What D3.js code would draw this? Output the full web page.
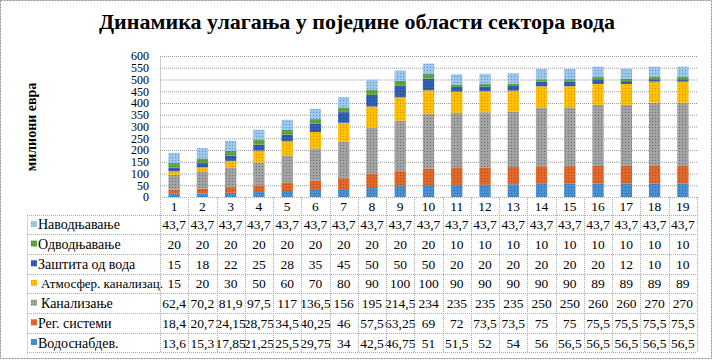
<!DOCTYPE html>
<html>
<head>
<meta charset="utf-8">
<script src="https://d3js.org/d3.v7.min.js"></script>
<style>
body { margin: 0; background: #fff; }
</style>
</head>
<body>
<svg width="714" height="360"></svg>
<script>
const categories = ['1','2','3','4','5','6','7','8','9','10','11','12','13','14','15','16','17','18','19'];

// series, bottom to top of the stack
const seriesNames = ['Водоснабдев.', 'Рег. системи', 'Канализање', 'Атмосфер. канализац.', 'Заштита од вода', 'Одводњавање', 'Наводњавање'];
const vodosnabdev = [13.6,15.3,17.85,21.25,25.5,29.75,34,42.5,46.75,51,51.5,52,54,56,56.5,56.5,56.5,56.5,56.5];
const regSistemi = [18.4,20.7,24.15,28.75,34.5,40.25,46,57.5,63.25,69,72,73.5,73.5,75,75,75.5,75.5,75.5,75.5];
const kanalisanje = [62.4,70.2,81.9,97.5,117,136.5,156,195,214.5,234,235,235,235,250,250,260,260,270,270];
const atmosfer = [15,20,30,50,60,70,80,90,100,100,90,90,90,90,90,89,89,89,89];
const zastita = [15,18,22,25,28,35,45,50,50,50,20,20,20,20,20,20,12,10,10];
const odvodnjavanje = [20,20,20,20,20,20,20,20,20,20,10,10,10,10,10,10,10,10,10];
const navodnjavanje = [43.7,43.7,43.7,43.7,43.7,43.7,43.7,43.7,43.7,43.7,43.7,43.7,43.7,43.7,43.7,43.7,43.7,43.7,43.7];
const yTicks = [0,50,100,150,200,250,300,350,400,450,500,550,600];

const seriesValues = [vodosnabdev, regSistemi, kanalisanje, atmosfer, zastita, odvodnjavanje, navodnjavanje];
const fills = ['#4a8fd0', '#e0682a', '#a3a3a3', '#ffc000', '#3260b4', '#62a544', '#9cc6ec'];
const dots  = ['#2f6aa6', '#b04a14', '#6e6e6e', '#e08c00', '#1c3f86', '#3f7a2a', '#5f95cf'];
const serif = "'Liberation Serif'";

const svg = d3.select('svg');

// outer border
svg.append('rect')
  .attr('x', 0.5).attr('y', 0.5).attr('width', 711).attr('height', 358)
  .attr('fill', 'none').attr('stroke', '#8c8c8c').attr('stroke-dasharray', '2,1');

// patterns
const defs = svg.append('defs');
fills.forEach((c, i) => {
  const p = defs.append('pattern')
    .attr('id', 'pat' + i)
    .attr('width', 3).attr('height', 3)
    .attr('patternUnits', 'userSpaceOnUse');
  p.append('rect').attr('width', 3).attr('height', 3).attr('fill', c);
  p.append('rect').attr('x', 1).attr('y', 1).attr('width', 1).attr('height', 1).attr('fill', dots[i]);
});

svg.append('text')
  .attr('x', 357).attr('y', 29)
  .attr('text-anchor', 'middle')
  .style('font-family', serif)
  .style('font-size', '22px').style('font-weight', 'bold')
  .text('Динамика улагања  у поједине области  сектора вода');

const plotLeft = 160, plotRight = 697, plotTop = 56, plotBottom = 197;

const x = d3.scaleBand().domain(categories).range([plotLeft, plotRight]).paddingInner(0.6).paddingOuter(0.3);
const xCol = d3.scaleBand().domain(categories).range([plotLeft, plotRight]);
const y = d3.scaleLinear().domain([0, 600]).range([plotBottom, plotTop]);

// gridlines
svg.append('g')
  .selectAll('line')
  .data(yTicks.slice(1))
  .join('line')
    .attr('x1', plotLeft).attr('x2', plotRight)
    .attr('y1', d => y(d) + 0.5).attr('y2', d => y(d) + 0.5)
    .attr('stroke', '#9a9a9a').attr('stroke-dasharray', '1,1');

// y axis
const yAxis = svg.append('g')
  .attr('transform', `translate(${plotLeft},0)`)
  .call(d3.axisLeft(y).tickValues(yTicks).tickSize(0).tickPadding(11));
yAxis.select('.domain').attr('stroke', '#9a9a9a').attr('stroke-dasharray', '1,1');
yAxis.selectAll('text')
  .attr('fill', '#000')
  .style('font-family', serif).style('font-size', '12px');

svg.append('text')
  .attr('transform', 'translate(36,127) rotate(-90)')
  .attr('text-anchor', 'middle')
  .style('font-family', serif)
  .style('font-size', '14px').style('font-weight', 'bold')
  .text('милиони евра');

// stacked bars
const rows = categories.map((c, j) => {
  const r = { cat: c };
  seriesNames.forEach((s, i) => { r[s] = seriesValues[i][j]; });
  return r;
});
const stacked = d3.stack().keys(seriesNames)(rows);

svg.append('g')
  .selectAll('g')
  .data(stacked)
  .join('g')
    .attr('fill', (d, i) => `url(#pat${i})`)
  .selectAll('rect')
  .data(d => d)
  .join('rect')
    .attr('x', d => x(d.data.cat))
    .attr('width', x.bandwidth())
    .attr('y', d => y(d[1]))
    .attr('height', d => y(d[0]) - y(d[1]));

// data table
const tableLeft = 27, headTop = 197, headH = 17.5, rowH = 19.7;
const tableTop = headTop + headH;
const tableBottom = tableTop + rowH * seriesNames.length;
const fmt = v => String(v).replace('.', ',');
const t = svg.append('g');

// header numbers
t.selectAll('.hdr')
  .data(categories)
  .join('text')
    .attr('class', 'hdr')
    .attr('x', d => xCol(d) + xCol.bandwidth() / 2)
    .attr('y', headTop + headH / 2 + 5)
    .attr('text-anchor', 'middle')
    .style('font-family', serif).style('font-size', '13.5px')
    .text(d => d);

// rows, top series first
const order = seriesNames.map((s, i) => i).reverse();
order.forEach((si, r) => {
  const cy = tableTop + rowH * r + rowH / 2;
  t.append('rect')
    .attr('x', 31).attr('y', cy - 3.5).attr('width', 6).attr('height', 6)
    .attr('fill', `url(#pat${si})`);
  t.append('text')
    .attr('x', si === 3 || si === 2 ? 41 : 38).attr('y', cy + 5)
    .style('font-family', serif).style('font-size', si === 3 ? '13px' : '14px')
    .text(seriesNames[si]);
  t.selectAll('.v' + si)
    .data(seriesValues[si])
    .join('text')
      .attr('x', (d, j) => xCol(categories[j]) + xCol.bandwidth() / 2)
      .attr('y', cy + 5)
      .attr('text-anchor', 'middle')
      .style('font-family', serif).style('font-size', '13.5px')
      .text(d => fmt(d));
});

// table grid
const gridColor = '#a8a8a8';
const hLines = [tableTop];
for (let r = 1; r <= seriesNames.length; r++) hLines.push(tableTop + rowH * r);
t.selectAll('.hl')
  .data(hLines)
  .join('line')
    .attr('x1', tableLeft).attr('x2', plotRight)
    .attr('y1', d => Math.round(d) + 0.5).attr('y2', d => Math.round(d) + 0.5)
    .attr('stroke', gridColor).attr('stroke-dasharray', '1,1');
t.append('line')
  .attr('x1', plotLeft).attr('x2', plotRight)
  .attr('y1', headTop + 0.5).attr('y2', headTop + 0.5)
  .attr('stroke', gridColor).attr('stroke-dasharray', '1,1');
t.append('line')
  .attr('x1', tableLeft + 0.5).attr('x2', tableLeft + 0.5)
  .attr('y1', tableTop).attr('y2', tableBottom)
  .attr('stroke', gridColor).attr('stroke-dasharray', '1,1');
t.selectAll('.vl')
  .data(categories.map(c => xCol(c)).concat([plotRight]))
  .join('line')
    .attr('x1', d => Math.round(d) + 0.5).attr('x2', d => Math.round(d) + 0.5)
    .attr('y1', headTop).attr('y2', tableBottom)
    .attr('stroke', gridColor).attr('stroke-dasharray', '1,1');
</script>
</body>
</html>
